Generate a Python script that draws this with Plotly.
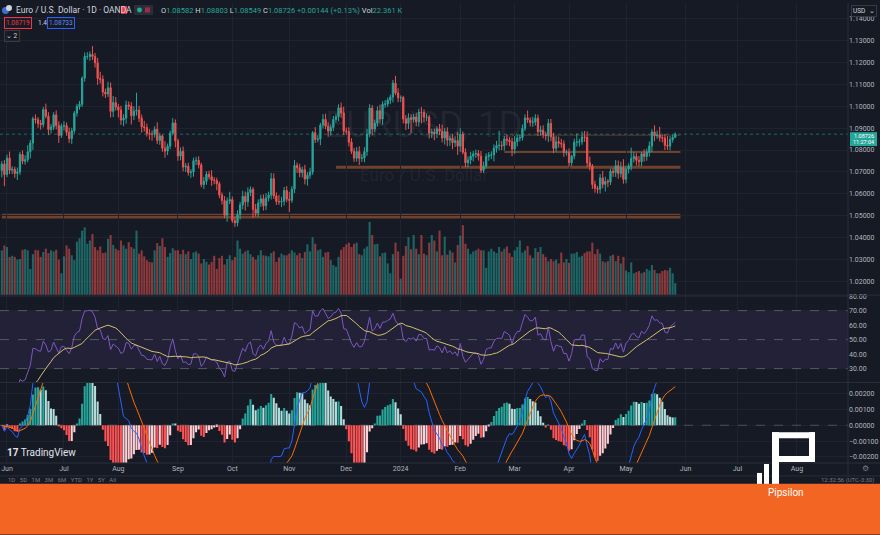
import numpy as np
import pandas as pd
import plotly.graph_objects as go

# ---------------- data ----------------
start_date = "2023-05-30"
first_open = 1.0706

closes = [
    1.0736, 1.0688, 1.0763, 1.0708, 1.0712, 1.0693, 1.0700, 1.0780, 1.0749, 1.0756,
    1.0792, 1.0832, 1.0943, 1.0939, 1.0922, 1.0917, 1.0985, 1.0955, 1.0894, 1.0905,
    1.0961, 1.0913, 1.0867, 1.0909, 1.0912, 1.0881, 1.0852, 1.0888, 1.0969, 1.0999,
    1.1009, 1.1129, 1.1228, 1.1228, 1.1237, 1.1228, 1.1199, 1.1128, 1.1124, 1.1065,
    1.1056, 1.1085, 1.0977, 1.1017, 1.0997, 1.0983, 1.0937, 1.0946, 1.1006, 1.1001,
    1.0957, 1.0978, 1.0982, 1.0946, 1.0906, 1.0903, 1.0876, 1.0873, 1.0871, 1.0895,
    1.0844, 1.0865, 1.0808, 1.0795, 1.0818, 1.0877, 1.0924, 1.0842, 1.0773, 1.0794,
    1.0722, 1.0726, 1.0697, 1.0700, 1.0751, 1.0753, 1.0732, 1.0642, 1.0657, 1.0689,
    1.0678, 1.0662, 1.0661, 1.0646, 1.0594, 1.0569, 1.0502, 1.0567, 1.0573, 1.0477,
    1.0467, 1.0504, 1.0549, 1.0588, 1.0563, 1.0605, 1.0620, 1.0529, 1.0511, 1.0558,
    1.0577, 1.0545, 1.0581, 1.0594, 1.0669, 1.0590, 1.0565, 1.0563, 1.0566, 1.0615,
    1.0575, 1.0570, 1.0621, 1.0729, 1.0719, 1.0697, 1.0710, 1.0667, 1.0685, 1.0699,
    1.0879, 1.0848, 1.0850, 1.0914, 1.0940, 1.0909, 1.0887, 1.0903, 1.0940, 1.0952,
    1.0993, 1.0970, 1.0887, 1.0884, 1.0836, 1.0794, 1.0763, 1.0793, 1.0762, 1.0764,
    1.0793, 1.0873, 1.0992, 1.0896, 1.0923, 1.0980, 1.0942, 1.1009, 1.1011, 1.1028,
    1.1042, 1.1106, 1.1061, 1.1039, 1.1040, 1.0942, 1.0922, 1.0948, 1.0940, 1.0951,
    1.0929, 1.0973, 1.0972, 1.0950, 1.0951, 1.0877, 1.0882, 1.0875, 1.0897, 1.0886,
    1.0855, 1.0884, 1.0845, 1.0854, 1.0834, 1.0843, 1.0818, 1.0873, 1.0790, 1.0742,
    1.0755, 1.0772, 1.0782, 1.0784, 1.0772, 1.0707, 1.0727, 1.0771, 1.0777, 1.0778,
    1.0808, 1.0820, 1.0822, 1.0820, 1.0851, 1.0845, 1.0838, 1.0804, 1.0838, 1.0855,
    1.0857, 1.0899, 1.0947, 1.0938, 1.0926, 1.0928, 1.0946, 1.0884, 1.0891, 1.0870,
    1.0866, 1.0922, 1.0861, 1.0808, 1.0838, 1.0831, 1.0828, 1.0789, 1.0790, 1.0742,
    1.0772, 1.0836, 1.0836, 1.0838, 1.0860, 1.0858, 1.0742, 1.0727, 1.0642, 1.0625,
    1.0621, 1.0672, 1.0643, 1.0656, 1.0654, 1.0703, 1.0697, 1.0728, 1.0693, 1.0720,
    1.0666, 1.0713, 1.0727, 1.0761, 1.0770, 1.0753, 1.0747, 1.0783, 1.0771, 1.0790,
    1.0819, 1.0883, 1.0865, 1.0869, 1.0857, 1.0855, 1.0822, 1.0818, 1.0848, 1.0858,
    1.08726,
]

# upper / lower wick lengths in pips
wick_up_pips = [
    14, 18, 16, 30, 14, 12, 20, 12, 18, 20,
    30, 14, 10, 20, 12, 16, 12, 27, 18, 14,
    12, 20, 18, 12, 20, 14, 22, 14, 10, 12,
    16, 8, 18, 20, 14, 39, 16, 22, 30, 18,
    16, 28, 24, 30, 26, 14, 20, 18, 20, 16,
    18, 22, 80, 20, 16, 28, 18, 20, 16, 14,
    32, 14, 6, 32, 12, 12, 22, 16, 10, 18,
    22, 14, 16, 12, 14, 16, 18, 10, 20, 14,
    16, 30, 14, 12, 10, 12, 20, 16, 36, 14,
    18, 20, 14, 26, 22, 24, 14, 10, 24, 16,
    18, 20, 22, 16, 26, 24, 16, 30, 20, 16,
    20, 34, 14, 26, 14, 18, 14, 22, 14, 20,
    8, 26, 18, 10, 24, 26, 18, 14, 16, 14,
    16, 24, 28, 16, 20, 18, 16, 20, 24, 18,
    20, 24, 18, 14, 16, 20, 28, 14, 18, 12,
    12, 15, 33, 22, 10, 8, 18, 20, 16, 14,
    20, 16, 24, 14, 16, 10, 16, 16, 12, 22,
    30, 16, 20, 12, 18, 20, 40, 26, 12, 18,
    16, 20, 14, 18, 16, 24, 20, 14, 14, 16,
    18, 22, 66, 20, 14, 20, 14, 18, 26, 14,
    14, 18, 16, 34, 12, 24, 18, 16, 20, 22,
    14, 20, 20, 18, 26, 24, 20, 16, 12, 18,
    6, 16, 40, 14, 25, 27, 27, 28, 9, 18,
    11, 18, 32, 22, 12, 12, 16, 26, 24, 26,
    38, 16, 12, 50, 20, 16, 20, 8, 20, 16,
    20, 12, 30, 20, 37, 12, 19, 42, 16, 12,
    8,
]
wick_dn_pips = [
    31, 53, 12, 18, 18, 20, 30, 14, 14, 16,
    12, 30, 32, 18, 20, 24, 14, 10, 26, 18,
    14, 18, 34, 12, 20, 16, 20, 24, 12, 16,
    14, 12, 16, 14, 20, 16, 22, 30, 20, 20,
    18, 14, 28, 26, 16, 34, 22, 28, 26, 18,
    40, 20, 20, 18, 26, 18, 14, 26, 28, 14,
    16, 20, 16, 30, 18, 14, 10, 30, 22, 20,
    20, 22, 14, 24, 22, 20, 16, 12, 20, 16,
    12, 26, 18, 30, 14, 18, 14, 30, 14, 10,
    19, 16, 22, 20, 40, 22, 16, 40, 16, 18,
    18, 22, 20, 16, 20, 14, 16, 14, 24, 20,
    14, 54, 12, 18, 24, 22, 22, 24, 30, 16,
    12, 16, 12, 28, 16, 14, 26, 20, 16, 14,
    20, 22, 18, 14, 20, 12, 18, 16, 30, 16,
    20, 20, 14, 30, 14, 16, 20, 26, 16, 14,
    18, 24, 10, 20, 20, 20, 30, 26, 64, 14,
    20, 22, 50, 22, 18, 24, 22, 30, 20, 18,
    20, 30, 28, 26, 30, 20, 40, 26, 10, 20,
    20, 20, 24, 18, 20, 12, 12, 12, 20, 18,
    30, 20, 22, 20, 22, 24, 20, 32, 22, 22,
    16, 14, 12, 14, 18, 20, 16, 20, 18, 16,
    22, 30, 20, 22, 16, 20, 18, 20, 14, 18,
    14, 14, 20, 20, 14, 20, 20, 20, 20, 20,
    20, 20, 18, 33, 24, 14, 20, 20, 24, 18,
    20, 18, 20, 20, 18, 24, 22, 20, 24, 20,
    20, 28, 24, 14, 18, 20, 22, 18, 20, 14,
    3,
]

volume_k = [
    82, 91, 88, 70, 72, 70, 65, 66, 83, 84,
    82, 48, 75, 83, 82, 70, 79, 85, 77, 82,
    80, 83, 65, 40, 71, 91, 85, 73, 64, 98,
    104, 118, 124, 94, 100, 112, 88, 82, 89, 77,
    78, 103, 110, 92, 85, 82, 100, 91, 85, 97,
    88, 85, 118, 76, 82, 71, 64, 61, 60, 82,
    95, 90, 104, 88, 70, 77, 86, 82, 82, 75,
    83, 75, 80, 66, 78, 80, 76, 58, 66, 61,
    56, 61, 72, 48, 68, 72, 56, 66, 73, 64,
    70, 100, 85, 76, 80, 82, 75, 70, 65, 73,
    82, 73, 72, 71, 77, 80, 61, 69, 76, 73,
    73, 76, 82, 78, 73, 77, 68, 79, 93, 80,
    106, 94, 82, 84, 70, 78, 79, 64, 55, 52,
    70, 83, 88, 93, 96, 88, 94, 96, 75, 73,
    85, 89, 134, 110, 93, 94, 71, 77, 78, 58,
    40, 75, 96, 80, 30, 72, 90, 106, 84, 110,
    85, 75, 110, 76, 73, 96, 110, 100, 80, 118,
    73, 107, 74, 82, 78, 60, 92, 109, 128, 94,
    85, 75, 80, 82, 85, 82, 82, 50, 80, 85,
    80, 77, 88, 80, 85, 89, 77, 70, 82, 88,
    100, 78, 82, 90, 73, 68, 86, 79, 88, 75,
    70, 62, 66, 62, 65, 58, 78, 60, 66, 59,
    76, 76, 79, 70, 72, 77, 80, 80, 96, 75,
    84, 76, 62, 60, 62, 72, 74, 62, 72, 58,
    70, 45, 42, 60, 40, 42, 44, 40, 42, 48,
    45, 55, 46, 40, 40, 44, 46, 45, 50, 40,
    22,
]

month_starts = ["2023-06-01", "2023-07-01", "2023-08-01", "2023-09-01", "2023-10-01",
                "2023-11-01", "2023-12-01", "2024-01-01", "2024-02-01", "2024-03-01",
                "2024-04-01", "2024-05-01", "2024-06-01", "2024-07-01", "2024-08-01"]
month_labels = ["Jun", "Jul", "Aug", "Sep", "Oct", "Nov", "Dec", "2024", "Feb", "Mar",
                "Apr", "May", "Jun", "Jul", "Aug"]

price_ticks = [1.02, 1.03, 1.04, 1.05, 1.06, 1.07, 1.08, 1.09, 1.10, 1.11, 1.12, 1.13, 1.14]
rsi_ticks = [30, 40, 50, 60, 70, 80]
macd_ticks = [-0.002, -0.001, 0.0, 0.001, 0.002]

# horizontal zones: (low price, high price, start date)
zone_low = [1.0487, 1.0714, 1.0786, 1.08665]
zone_high = [1.0509, 1.0728, 1.0800, 1.08695]
zone_start = ["2023-05-25", "2023-11-27", "2024-02-26", "2024-02-29"]
zone_end = "2024-05-30"

last_info = dict(o="1.08582", h="1.08803", l="1.08549", c="1.08726",
                 chg="+0.00144 (+0.13%)", vol="22.361 K")

# ---------------- derived series ----------------
n = len(closes)
all_dates = pd.bdate_range(start_date, "2024-09-02")
c = pd.Series(closes)
opens = [first_open] + closes[:-1]
highs = [max(o, cl) + u / 10000 for o, cl, u in zip(opens, closes, wick_up_pips)]
lows = [min(o, cl) - d / 10000 for o, cl, d in zip(opens, closes, wick_dn_pips)]
xi = np.arange(n)


def date_idx(d):
    d = pd.Timestamp(d)
    return float(np.searchsorted(all_dates.values, np.datetime64(d)))


tickvals = [date_idx(d) for d in month_starts]

# RSI 14 + MA 14
diff = c.diff()
gain = diff.clip(lower=0)
loss = -diff.clip(upper=0)
ag = gain.ewm(alpha=1 / 14, adjust=False).mean()
al = loss.ewm(alpha=1 / 14, adjust=False).mean()
rsi = 100 - 100 / (1 + ag / al)
rsi_ma = rsi.rolling(14, min_periods=1).mean()

# MACD 12 26 9
ema12 = c.ewm(span=12, adjust=False).mean()
ema26 = c.ewm(span=26, adjust=False).mean()
macd = ema12 - ema26
signal = macd.ewm(span=9, adjust=False).mean()
hist = macd - signal
hist_colors = []
for i in range(n):
    prev = hist.iloc[i - 1] if i > 0 else 0
    h = hist.iloc[i]
    if h >= 0:
        hist_colors.append("#26a69a" if h > prev else "#b2dfdb")
    else:
        hist_colors.append("#ffcdd2" if h > prev else "#ff5252")

vol_colors = ["rgba(38,166,154,0.55)" if cl >= o else "rgba(239,83,80,0.55)"
              for o, cl in zip(opens, closes)]

# ---------------- geometry ----------------
W, H = 880, 535
PW, PH = 848, 463
BG = "#161a25"
GRID = "#1f2330"
TXT = "#b2b5be"


def px(x):
    return x / PW


def py(y):
    return (PH - y) / PH


x_range = [-0.7, 326.7]

fig = go.Figure()

fig.add_trace(go.Bar(x=xi, y=volume_k, marker=dict(color=vol_colors, line=dict(width=0)),
                     xaxis="x", yaxis="y4", showlegend=False, hoverinfo="skip"))
fig.add_trace(go.Candlestick(x=xi, open=opens, high=highs, low=lows, close=closes,
                             xaxis="x", yaxis="y",
                             increasing=dict(line=dict(color="#26a69a", width=1), fillcolor="#26a69a"),
                             decreasing=dict(line=dict(color="#ef5350", width=1), fillcolor="#ef5350"),
                             whiskerwidth=0, showlegend=False))
fig.add_trace(go.Scatter(x=xi, y=rsi, mode="lines", line=dict(color="#7e57c2", width=1),
                         xaxis="x", yaxis="y2", showlegend=False))
fig.add_trace(go.Scatter(x=xi, y=rsi_ma, mode="lines", line=dict(color="#d4c06c", width=1),
                         xaxis="x", yaxis="y2", showlegend=False))
fig.add_trace(go.Bar(x=xi, y=hist, marker=dict(color=hist_colors, line=dict(width=0)),
                     xaxis="x", yaxis="y3", showlegend=False))
fig.add_trace(go.Scatter(x=xi, y=macd, mode="lines", line=dict(color="#2962ff", width=1),
                         xaxis="x", yaxis="y3", showlegend=False))
fig.add_trace(go.Scatter(x=xi, y=signal, mode="lines", line=dict(color="#ff6d00", width=1),
                         xaxis="x", yaxis="y3", showlegend=False))

shapes = []
# zones
for lo, hi, s in zip(zone_low, zone_high, zone_start):
    shapes.append(dict(type="rect", xref="x", yref="y", x0=max(date_idx(s), x_range[0]),
                       x1=date_idx(zone_end), y0=lo, y1=hi, fillcolor="rgba(190,100,50,0.55)",
                       line=dict(width=0), layer="below"))
# current price dotted line
shapes.append(dict(type="line", xref="x", yref="y", x0=x_range[0], x1=x_range[1],
                   y0=closes[-1], y1=closes[-1],
                   line=dict(color="rgba(38,166,154,0.55)", width=1, dash="dot")))
# RSI band and levels
shapes.append(dict(type="rect", xref="x", yref="y2", x0=x_range[0], x1=x_range[1], y0=30, y1=70,
                   fillcolor="rgba(126,87,194,0.12)", line=dict(width=0), layer="below"))
for lv in [70, 50, 30]:
    shapes.append(dict(type="line", xref="x", yref="y2", x0=x_range[0], x1=x_range[1], y0=lv, y1=lv,
                       line=dict(color="rgba(120,123,134,0.6)", width=1, dash="dash")))
shapes.append(dict(type="line", xref="x", yref="y3", x0=x_range[0], x1=x_range[1], y0=0, y1=0,
                   line=dict(color="rgba(120,123,134,0.5)", width=1, dash="dash")))
# pane separators
for yy in [294, 382, 463, 476]:
    shapes.append(dict(type="line", xref="paper", yref="paper", x0=0, x1=px(W), y0=py(yy), y1=py(yy),
                       line=dict(color="#2a2e39", width=1)))
shapes.append(dict(type="line", xref="paper", yref="paper", x0=1, x1=1, y0=py(0), y1=py(476),
                   line=dict(color="#2a2e39", width=1)))
# orange footer
shapes.append(dict(type="rect", xref="paper", yref="paper", x0=0, x1=px(W), y0=py(535), y1=py(484),
                   fillcolor="#f26522", line=dict(width=0)))


def prect(x0, y0, x1, y1, color, **kw):
    d = dict(type="rect", xref="paper", yref="paper", x0=px(x0), x1=px(x1), y0=py(y1), y1=py(y0),
             fillcolor=color, line=dict(width=0))
    d.update(kw)
    return d


# Pipsilon logo
for r in [(772, 432, 815, 438), (809, 432, 815, 462), (778, 456, 815, 462), (772, 432, 779, 484),
          (764, 464, 769, 484), (757, 473, 762, 484)]:
    shapes.append(prect(*r, "#ffffff"))
# current price label box
shapes.append(prect(850, 130, 877, 144, "#26a69a"))
# header icons
shapes.append(dict(type="circle", xref="paper", yref="paper", x0=px(2), x1=px(9), y0=py(11), y1=py(4),
                   fillcolor="#3b6fd6", line=dict(width=0)))
shapes.append(dict(type="circle", xref="paper", yref="paper", x0=px(6), x1=px(12), y0=py(8), y1=py(2),
                   fillcolor="#d1d4dc", line=dict(width=0)))
shapes.append(prect(121, 3, 127, 11, "#f23645"))
shapes.append(prect(134, 2, 153, 12, "#2a2e39"))
shapes.append(dict(type="circle", xref="paper", yref="paper", x0=px(137), x1=px(142), y0=py(9.5), y1=py(4.5),
                   fillcolor="#22ab94", line=dict(width=0)))
shapes.append(prect(145, 4.5, 150, 9.5, "#a3294a"))

F = "Roboto, Arial, sans-serif"
ann = []


def text(x, y, s, size=7, color=TXT, xanchor="left", yanchor="middle", **kw):
    d = dict(xref="paper", yref="paper", x=px(x), y=py(y), text=s, showarrow=False,
             xanchor=xanchor, yanchor=yanchor, font=dict(size=size, color=color, family=F))
    d.update(kw)
    ann.append(d)


text(14, 7.5, "Euro / U.S. Dollar · 1D · OANDA", size=8.5, color="#d1d4dc")
tc = "#26a69a"
ohlc = (f"O<span style='color:{tc}'>{last_info['o']}</span> H<span style='color:{tc}'>{last_info['h']}</span> "
        f"L<span style='color:{tc}'>{last_info['l']}</span> C<span style='color:{tc}'>{last_info['c']}</span> "
        f"<span style='color:{tc}'>{last_info['chg']}</span> Vol<span style='color:{tc}'>{last_info['vol']}</span>")
text(159, 7.5, ohlc, size=7.5, color="#d1d4dc")
text(4, 20, "1.08719", size=6.5, color="#f23645", bordercolor="#f23645", borderwidth=1, borderpad=1)
text(36, 20, "1.4", size=6.5, color="#d1d4dc")
text(47, 20, "1.08733", size=6.5, color="#5b8bff", bordercolor="#2962ff", borderwidth=1, borderpad=1)
text(4, 33, "⌄ 2", size=6.5, color="#d1d4dc", bordercolor="#363a45", borderwidth=1, borderpad=1)
text(851, 8, "USD  ⌄", size=6.5, color="#d1d4dc", bordercolor="#363a45", borderwidth=1, borderpad=1,
     bgcolor=BG)
text(863.5, 133.8, "1.08726", size=5.5, color="#ffffff", xanchor="center")
text(863.5, 140.4, "11:27:04", size=5.5, color="#ffffff", xanchor="center")

# watermark
text(424, 122, "EURUSD, 1D", size=37, color="rgba(150,155,170,0.09)", xanchor="center")
text(424, 173, "Euro / U.S. Dollar", size=17, color="rgba(150,155,170,0.09)", xanchor="center")

# TradingView logo
text(5, 452, "<b>17</b> TradingView", size=10, color="#e0e3eb")
# bottom toolbar
text(6, 480, "1D   5D   1M   3M   6M   YTD   1Y   5Y   All", size=6, color="#787b86")
text(876, 480, "12:32:56 (UTC-3:30)", size=6, color="#787b86", xanchor="right")
text(866, 469, "⚙", size=8, color="#787b86", xanchor="center")
# Pipsilon
text(786, 493, "Pipsilon", size=10, color="#ffffff", xanchor="center")

fig.update_layout(
    width=W, height=H, margin=dict(l=0, r=W - PW, t=0, b=H - PH),
    paper_bgcolor=BG, plot_bgcolor=BG, showlegend=False, bargap=0.2,
    font=dict(family=F, color=TXT, size=7),
    xaxis=dict(range=x_range, anchor="y3", tickvals=tickvals, ticktext=month_labels,
               showgrid=True, gridcolor=GRID, gridwidth=1, zeroline=False, showline=False,
               ticks="", tickfont=dict(size=7, color=TXT), rangeslider=dict(visible=False),
               fixedrange=True),
    yaxis=dict(domain=[py(294), 1], range=[1.01364, 1.14727], side="right", anchor="x",
               tickvals=price_ticks, ticktext=[f"{v:.5f}" for v in price_ticks],
               showgrid=True, gridcolor=GRID, zeroline=False, ticks="",
               tickfont=dict(size=7, color=TXT)),
    yaxis4=dict(overlaying="y", range=[0, 535], visible=False, showgrid=False),
    yaxis2=dict(domain=[py(382), py(294)], range=[20.4, 80.7], side="right", anchor="x",
                tickvals=rsi_ticks, ticktext=[f"{v:.2f}" for v in rsi_ticks],
                showgrid=True, gridcolor=GRID, zeroline=False, ticks="",
                tickfont=dict(size=7, color=TXT)),
    yaxis3=dict(domain=[0, py(382)], range=[-0.00238, 0.00269], side="right", anchor="x",
                tickvals=macd_ticks,
                ticktext=[("−" if v < 0 else "") + f"{abs(v):.5f}" for v in macd_ticks],
                showgrid=True, gridcolor=GRID, zeroline=False, ticks="",
                tickfont=dict(size=7, color=TXT)),
    shapes=shapes, annotations=ann,
)

fig.write_html("out.html")
